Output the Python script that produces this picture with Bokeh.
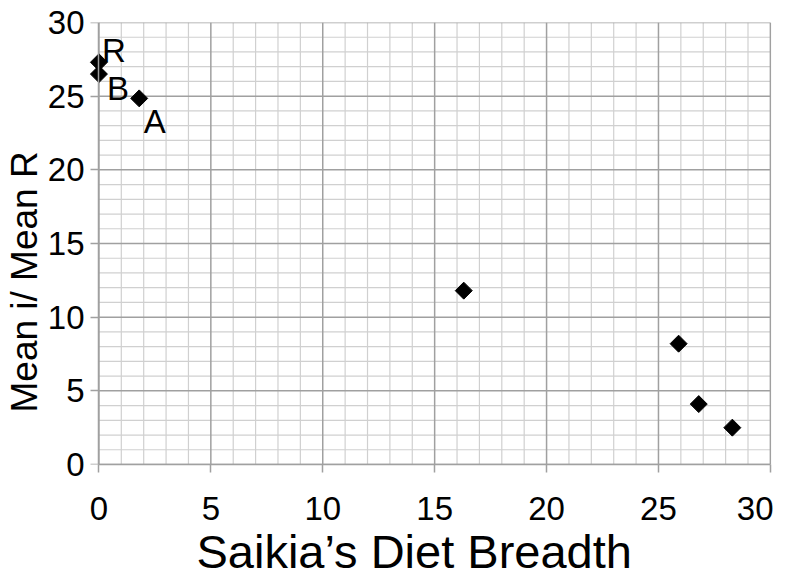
from bokeh.plotting import figure
from bokeh.models import ColumnDataSource, FixedTicker, Range1d, LinearAxis, Title
from bokeh.core.properties import value
from bokeh.embed import file_html
from bokeh.resources import INLINE

# data
diet_breadth = [0.0, 0.0, 1.8, 16.3, 25.9, 26.8, 28.3]
mean_ratio = [27.3, 26.5, 24.85, 11.8, 8.2, 4.1, 2.5]

label_text = ["R", "B", "A"]
label_x = [0.14, 0.36, 2.0]
label_y = [28.1, 25.5, 23.3]

x_ticks = [0, 5, 10, 15, 20, 25, 30]
y_ticks = [0, 5, 10, 15, 20, 25, 30]
minor_ticks = list(range(0, 31))

x_title = "Saikia\u2019s Diet Breadth"
y_title = "Mean i/ Mean R"

FONT = "Liberation Sans"
MAJOR = "#a0a0a0"
MINOR = "#d0d0d0"

p = figure(frame_width=686, frame_height=442, output_backend="svg",
           toolbar_location=None,
           x_range=Range1d(-0.6, 30.05), y_range=Range1d(0, 30),
           min_border_left=85, min_border_top=22, min_border_right=2,
           min_border_bottom=0)
p.background_fill_color = "white"
p.border_fill_color = "white"
p.outline_line_color = None
p.xgrid.visible = False
p.ygrid.visible = False

# grid lines drawn from the tick lists
x_lo, x_hi = x_ticks[0], x_ticks[-1]
y_lo, y_hi = y_ticks[0], y_ticks[-1]
minor_only = [t for t in minor_ticks if t not in x_ticks]
p.segment(x0=minor_only, y0=[y_lo] * len(minor_only), x1=minor_only,
          y1=[y_hi] * len(minor_only), line_color=MINOR, line_width=1.2)
minor_only_y = [t for t in minor_ticks if t not in y_ticks]
p.segment(x0=[x_lo] * len(minor_only_y), y0=minor_only_y,
          x1=[x_hi] * len(minor_only_y), y1=minor_only_y,
          line_color=MINOR, line_width=1.2)
p.segment(x0=x_ticks, y0=[y_lo] * len(x_ticks), x1=x_ticks,
          y1=[y_hi] * len(x_ticks), line_color=MAJOR, line_width=1.5)
p.segment(x0=[x_lo] * len(y_ticks), y0=y_ticks, x1=[x_hi] * len(y_ticks),
          y1=y_ticks, line_color=MAJOR, line_width=1.5)

def style(ax, ticks):
    ax.ticker = FixedTicker(ticks=ticks)
    ax.major_label_text_font = FONT
    ax.major_label_text_font_size = "33px"
    ax.major_label_text_color = "black"
    ax.axis_line_color = MAJOR
    ax.axis_line_width = 1.5
    ax.major_tick_line_color = MAJOR
    ax.major_tick_line_width = 1.5
    ax.major_tick_in = 0
    ax.major_tick_out = 8
    ax.minor_tick_line_color = None

style(p.xaxis[0], x_ticks)
p.xaxis.bounds = (x_lo, x_hi)
p.xaxis.major_label_standoff = 24

# y axis line + ticks at x = 0 (no labels)
style(p.yaxis[0], y_ticks)
p.yaxis[0].fixed_location = x_lo
p.yaxis[0].major_label_text_color = None

# y tick labels on a plain left axis
ylab = LinearAxis()
style(ylab, y_ticks)
ylab.axis_line_color = None
ylab.major_tick_line_color = None
ylab.major_tick_out = 0
ylab.major_label_standoff = 1
p.add_layout(ylab, "left")

p.add_layout(Title(text=x_title, align="left", offset=111, standoff=0,
                   text_font=FONT, text_font_size="47px",
                   text_font_style="normal", text_color="black"), "below")
p.add_layout(Title(text=y_title, align="left", offset=52, standoff=0,
                   text_font=FONT, text_font_size="37px",
                   text_font_style="normal", text_color="black"), "left")

src = ColumnDataSource(dict(x=diet_breadth, y=mean_ratio))
p.scatter("x", "y", source=src, marker="square", size=12, angle=0.785398,
          fill_color="black", line_color="black")

lsrc = ColumnDataSource(dict(x=label_x, y=label_y, t=label_text))
p.text("x", "y", text="t", source=lsrc, text_font=value(FONT),
       text_font_size="33px", text_color="black",
       text_align="left", text_baseline="alphabetic")

open("out.html", "w").write(file_html(p, INLINE))
